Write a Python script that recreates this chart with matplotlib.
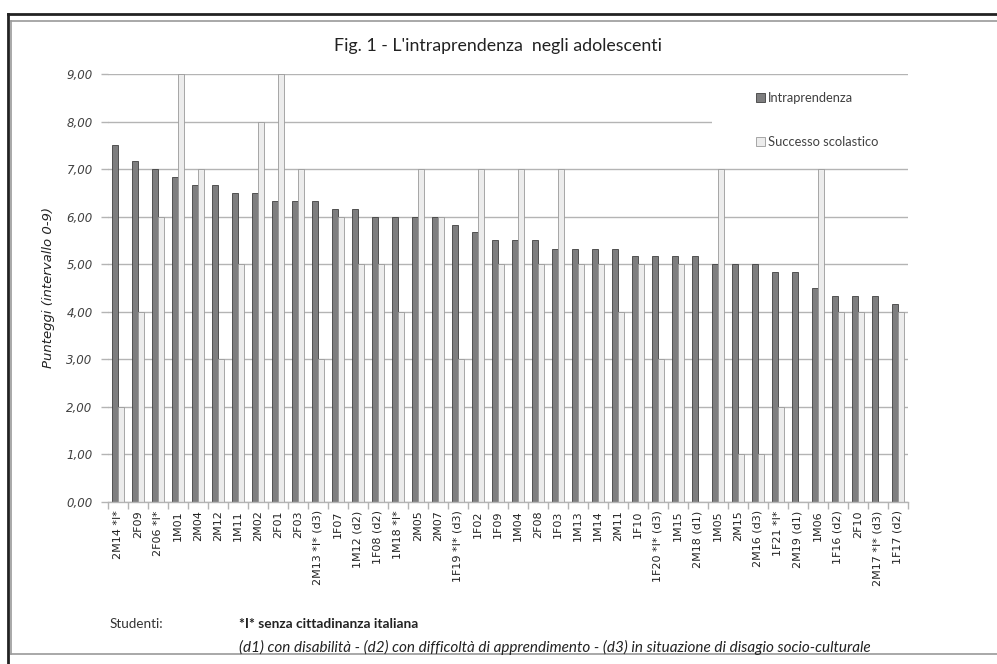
import numpy as np
import matplotlib
matplotlib.use("Agg")
from matplotlib import pyplot as plt
from matplotlib.patches import Rectangle
from matplotlib.lines import Line2D

studenti = ["2M14 *I*", "2F09", "2F06 *I*", "1M01", "2M04", "2M12", "1M11", "2M02",
            "2F01", "2F03", "2M13 *I* (d3)", "1F07", "1M12 (d2)", "1F08 (d2)", "1M18 *I*",
            "2M05", "2M07", "1F19 *I* (d3)", "1F02", "1F09", "1M04", "2F08", "1F03",
            "1M13", "1M14", "2M11", "1F10", "1F20 *I* (d3)", "1M15", "2M18 (d1)", "1M05",
            "2M15", "2M16 (d3)", "1F21 *I*", "2M19 (d1)", "1M06", "1F16 (d2)", "2F10",
            "2M17 *I* (d3)", "1F17 (d2)"]

intraprendenza = [7.50, 7.17, 7.00, 6.83, 6.67, 6.67, 6.50, 6.50, 6.33, 6.33, 6.33,
                  6.17, 6.17, 6.00, 6.00, 6.00, 6.00, 5.83, 5.67, 5.50, 5.50, 5.50,
                  5.33, 5.33, 5.33, 5.33, 5.17, 5.17, 5.17, 5.17, 5.00, 5.00, 5.00,
                  4.83, 4.83, 4.50, 4.33, 4.33, 4.33, 4.17]

successo = [2, 4, 6, 9, 7, 3, 5, 8, 9, 7, 3, 6, 5, 5, 4, 7, 6, 3, 7, 5,
            7, 5, 7, 5, 5, 4, 5, 3, 5, 0, 7, 1, 1, 2, 0, 7, 4, 4, 0, 4]

y_ticks = [0, 1, 2, 3, 4, 5, 6, 7, 8, 9]

cal = ["Lato", "DejaVu Sans"]

fig = plt.figure(figsize=(9.97, 6.64), dpi=100)
ax = fig.add_axes([0.1083, 0.244, 0.8024, 0.6446])

x = np.arange(len(studenti))
w = 0.29
ax.bar(x - w / 2, intraprendenza, w, color="#7e7e7f", edgecolor="#404040",
       linewidth=0.6, label="Intraprendenza", zorder=2)
ax.bar(x + w / 2, successo, w, color="#ececec", edgecolor="#9a9a9a",
       linewidth=0.6, label="Successo scolastico", zorder=2)

ax.set_xlim(-0.5, len(studenti) - 0.5)
ax.set_ylim(0, 9)
ax.set_yticks(y_ticks)
ax.set_yticklabels([("%.2f" % v).replace(".", ",") for v in y_ticks])
ax.yaxis.grid(True, color="#b4b4b4", linewidth=1.0)
ax.set_axisbelow(True)

for s in ["top", "right", "left"]:
    ax.spines[s].set_visible(False)
ax.spines["bottom"].set_color("#b4b4b4")
ax.spines["bottom"].set_linewidth(1.0)

ax.tick_params(axis="y", length=5, color="#b4b4b4", width=1.0, pad=6,
               labelsize=8.5, labelcolor="#404040")
for t in ax.get_yticklabels():
    t.set_fontstyle("italic")

ax.set_xticks(x)
ax.set_xticklabels(studenti, rotation=90, fontsize=8, color="#222222")
ax.tick_params(axis="x", which="major", length=0, pad=6)
ax.set_xticks(np.arange(-0.5, len(studenti)), minor=True)
ax.tick_params(axis="x", which="minor", length=5, color="#b4b4b4", width=1.0)

ax.set_ylabel("Punteggi (intervallo 0-9)", fontsize=9.5, fontstyle="italic",
              color="#222222", labelpad=8)

# white patch behind the legend hides part of the 8,00 gridline
ax.add_patch(Rectangle((0.755, 0.80), 0.25, 0.175, transform=ax.transAxes,
                       facecolor="white", edgecolor="none", zorder=1.5, clip_on=False))
leg = ax.legend(loc="upper left", bbox_to_anchor=(0.795, 0.985), frameon=False,
                handlelength=0.7, handleheight=0.7, handletextpad=0.25,
                labelspacing=2.45, prop={"family": cal, "size": 9.3})
for t in leg.get_texts():
    t.set_color("#404040")

fig.text(0.4995, 0.930, "Fig. 1 - L'intraprendenza  negli adolescenti",
         ha="center", va="center", fontsize=12.8, color="#222222", family=cal)

fig.text(0.110, 0.060, "Studenti:", ha="left", va="center", fontsize=9.7,
         color="#333333", family=cal)
fig.text(0.240, 0.060, "*I* senza cittadinanza italiana", ha="left", va="center",
         fontsize=9.9, fontweight="bold", color="#222222", family=cal)
fig.text(0.240, 0.025,
         "(d1) con disabilità - (d2) con difficoltà di apprendimento - (d3) in situazione di disagio socio-culturale",
         ha="left", va="center", fontsize=11, fontstyle="italic", color="#222222",
         family=cal)

# page frame around the figure
fig.add_artist(Line2D([0.008, 1.0], [0.979, 0.979], color="#222222", linewidth=2.0))
fig.add_artist(Line2D([0.008, 0.008], [0.0, 0.979], color="#222222", linewidth=2.0))
fig.add_artist(Line2D([0.011, 1.0], [0.968, 0.968], color="#9a9a9a", linewidth=1.2))
fig.add_artist(Line2D([0.011, 0.011], [0.015, 0.968], color="#9a9a9a", linewidth=1.2))
fig.add_artist(Line2D([0.011, 1.0], [0.015, 0.015], color="#9a9a9a", linewidth=1.2))

fig.savefig("out.png", dpi=100)
